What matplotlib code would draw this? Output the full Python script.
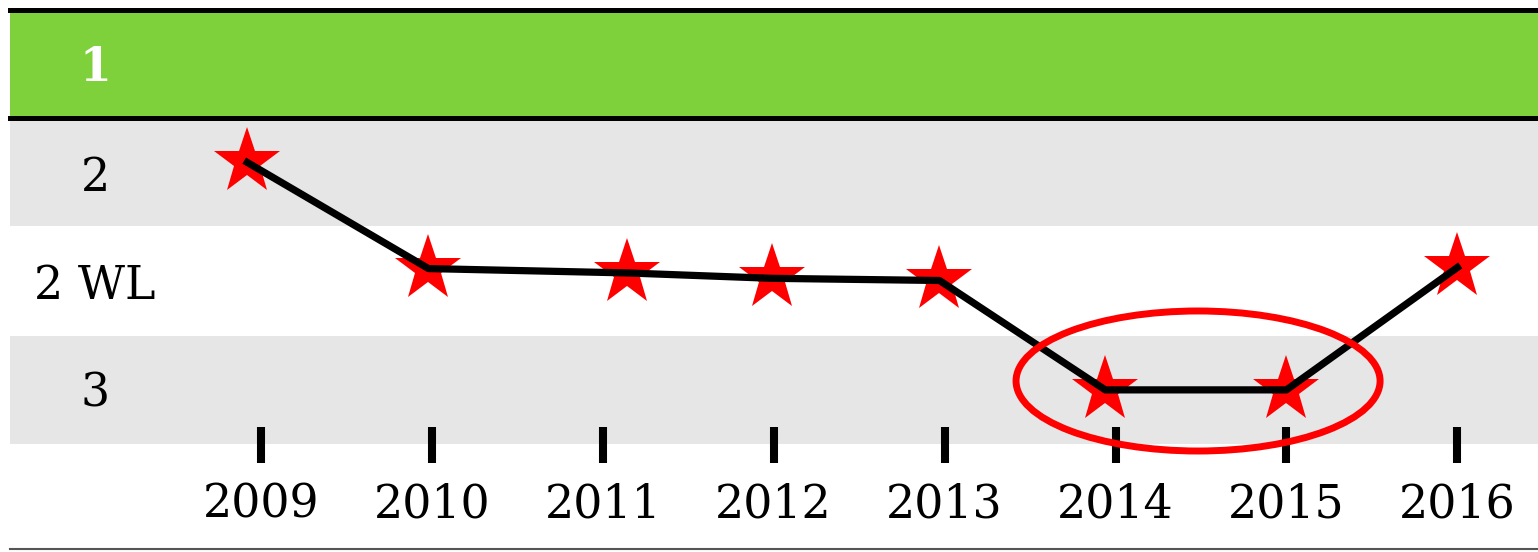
import matplotlib.pyplot as plt
from matplotlib.patches import Ellipse

# rating levels, top to bottom (0 = best)
levels = ["1", "2", "2 WL", "3"]
years = [2009, 2010, 2011, 2012, 2013, 2014, 2015, 2016]

# star positions (x in years, y in level units)
star_x = [2008.92, 2009.98, 2011.14, 2011.99, 2012.97, 2013.94, 2015.00, 2016.00]
star_y = [0.90, 1.88, 1.92, 1.97, 1.99, 3.00, 3.00, 1.87]

green = "#7fd13b"
grey = "#e6e6e6"

fig = plt.figure(figsize=(15.38, 5.52), dpi=100)
ax = fig.add_axes([0, 0, 1, 1])
ax.set_xlim(2007.473, 2016.472)
ax.set_ylim(4.497, -0.600)
ax.axis("off")

left = 10 / 1538
# background bands
ax.axhspan(-0.489, 0.489, xmin=left, xmax=1, color=green, lw=0, zorder=0)
ax.axhspan(0.517, 1.487, xmin=left, xmax=1, color=grey, lw=0, zorder=0)
ax.axhspan(2.502, 3.500, xmin=left, xmax=1, color=grey, lw=0, zorder=0)
ax.axhline(-0.512, xmin=left, xmax=1, color="black", lw=3.6, zorder=1)
ax.axhline(0.494, xmin=left, xmax=1, color="black", lw=3.6, zorder=1)
ax.axhline(4.469, xmin=left, xmax=1, color="#555555", lw=1.5, zorder=1)

# level labels on the left
ytrans = ax.get_yaxis_transform()
label_y = [0.148, 1.163, 2.161, 3.158]
for i, lab in enumerate(levels):
    ax.text(95 / 1538, label_y[i], lab, transform=ytrans, ha="center", va="baseline",
            fontsize=33, family="DejaVu Serif",
            color="white" if i == 0 else "black",
            fontweight="bold" if i == 0 else "normal")

# year ticks and labels
ax.vlines(years, 3.343, 3.675, color="black", lw=5.8, zorder=2)
for y in years:
    ax.text(y, 4.174, str(y), ha="center", va="baseline", fontsize=33,
            family="DejaVu Serif", color="black")

# data
ax.plot(star_x, star_y, ls="none", marker="*", ms=50, color="red", mew=0, zorder=3)
ax.plot(star_x, star_y, color="black", lw=5.2, zorder=4)

# highlight 2014-2015
ax.add_patch(Ellipse((2014.483, 2.918), 2.13, 1.293, fill=False, ec="red", lw=5, zorder=5))

fig.savefig("out.png", dpi=100)
